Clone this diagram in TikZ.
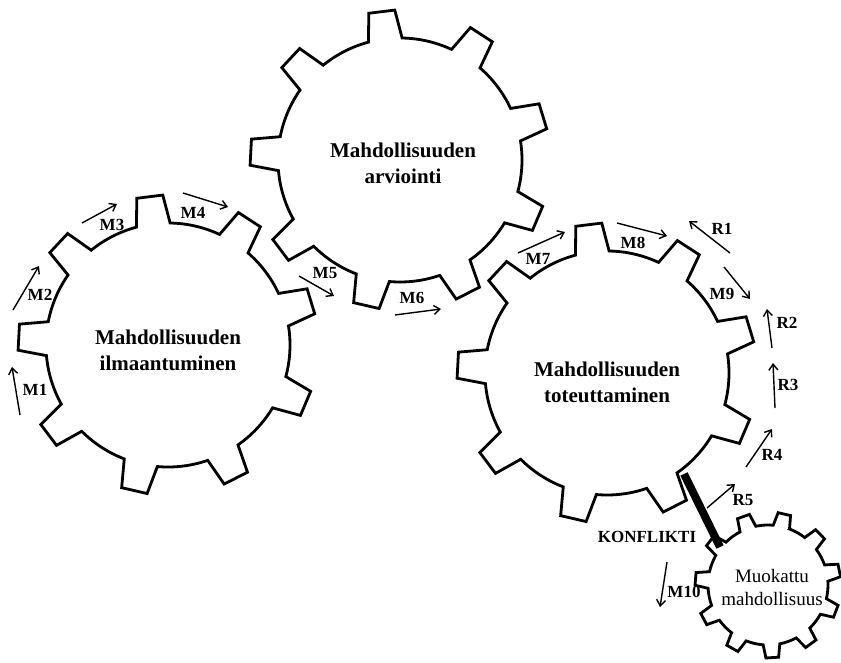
\documentclass[tikz,border=0pt]{standalone}
\usepackage{fontspec}
\setmainfont{Liberation Serif}
\usetikzlibrary{arrows.meta}
\tikzset{
  gearline/.style={line width=2.8pt, line join=miter, black},
  flow/.style={-{Straight Barb[length=6pt,width=9pt]}, line width=1.4pt},
  lbl/.style={font=\bfseries\fontsize{17}{17}\selectfont, inner sep=0pt},
  title/.style={font=\bfseries\fontsize{21}{26}\selectfont, align=center, inner sep=0pt},
  subtitle/.style={font=\fontsize{19}{23}\selectfont, align=center, inner sep=0pt},
}
% #1,#2 centre, #3 teeth, #4 first tooth angle, #5 tip radius, #6 root radius, #7 tip half angle, #8 root half angle
\newcommand\gearpath[8]{%
  \pgfmathsetmacro\gstep{360/#3}%
  \pgfmathtruncatemacro\glast{#3-1}%
  \draw[gearline,shift={(#1,#2)}] ({#4-#8}:#6pt)
    \foreach \k in {0,...,\glast}{
      -- ({#4+\gstep*\k-#7}:#5pt) -- ({#4+\gstep*\k+#7}:#5pt) -- ({#4+\gstep*\k+#8}:#6pt)
      arc[start angle={#4+\gstep*\k+#8}, end angle={#4+\gstep*(\k+1)-#8}, radius=#6pt]
    } -- cycle;}
\newcommand\flowarrow[7]{% name, x1,y1, x2,y2, label pos, text
  \coordinate (#1-s) at (#2,#3);
  \coordinate (#1-e) at (#4,#5);
  \draw[flow] (#1-s) -- (#1-e);
  \node[lbl] (#1) at (#6) {#7};}
\begin{document}
\begin{tikzpicture}[x=1pt,y=1pt]
\useasboundingbox[fill=white] (0,0) rectangle (841,662);
% gears
\gearpath{168}{317}{9}{17}{150}{122}{5}{8}
\gearpath{400}{502}{9}{17}{150}{122}{5}{8}
\gearpath{607}{289}{9}{17}{150}{122}{5}{8}
\gearpath{768}{77}{11}{77}{73}{60}{5}{8}
% titles
\node[title] (g1) at (168,312) {Mahdollisuuden\\ilmaantuminen};
\node[title] (g2) at (403,499) {Mahdollisuuden\\arviointi};
\node[title] (g3) at (607,280) {Mahdollisuuden\\toteuttaminen};
\node[subtitle] (g4) at (772,74) {Muokattu\\mahdollisuus};
% conflict bar
\coordinate (kA) at (684,188);
\coordinate (kB) at (720,115);
\draw[line width=8pt] (kA) -- (kB);
\node[lbl] (konf) at (647,125) {KONFLIKTI};
% arrows
\flowarrow{m1}{20}{247}{12}{295}{35,272}{M1}
\flowarrow{m2}{13}{352}{39}{396}{40,367}{M2}
\flowarrow{m3}{82}{439}{117}{458}{112,437}{M3}
\flowarrow{m4}{183}{469}{228}{455}{193,449}{M4}
\flowarrow{m5}{299}{386}{334}{366}{325,389}{M5}
\flowarrow{m6}{395}{347}{441}{353}{412,364}{M6}
\flowarrow{m7}{518}{409}{565}{430}{538,403}{M7}
\flowarrow{m8}{617}{439}{667}{426}{633,419}{M8}
\flowarrow{r1}{730}{409}{689}{441}{722,433}{R1}
\flowarrow{m9}{724}{395}{750}{363}{722,368}{M9}
\flowarrow{r2}{772}{314}{767}{353}{787,339}{R2}
\flowarrow{r3}{775}{254}{773}{299}{788,277}{R3}
\flowarrow{r4}{746}{195}{772}{233}{772,207}{R4}
\flowarrow{r5}{707}{154}{735}{178}{743,162}{R5}
\flowarrow{m10}{667}{100}{660}{55}{684,70}{M10}
\end{tikzpicture}
\end{document}
